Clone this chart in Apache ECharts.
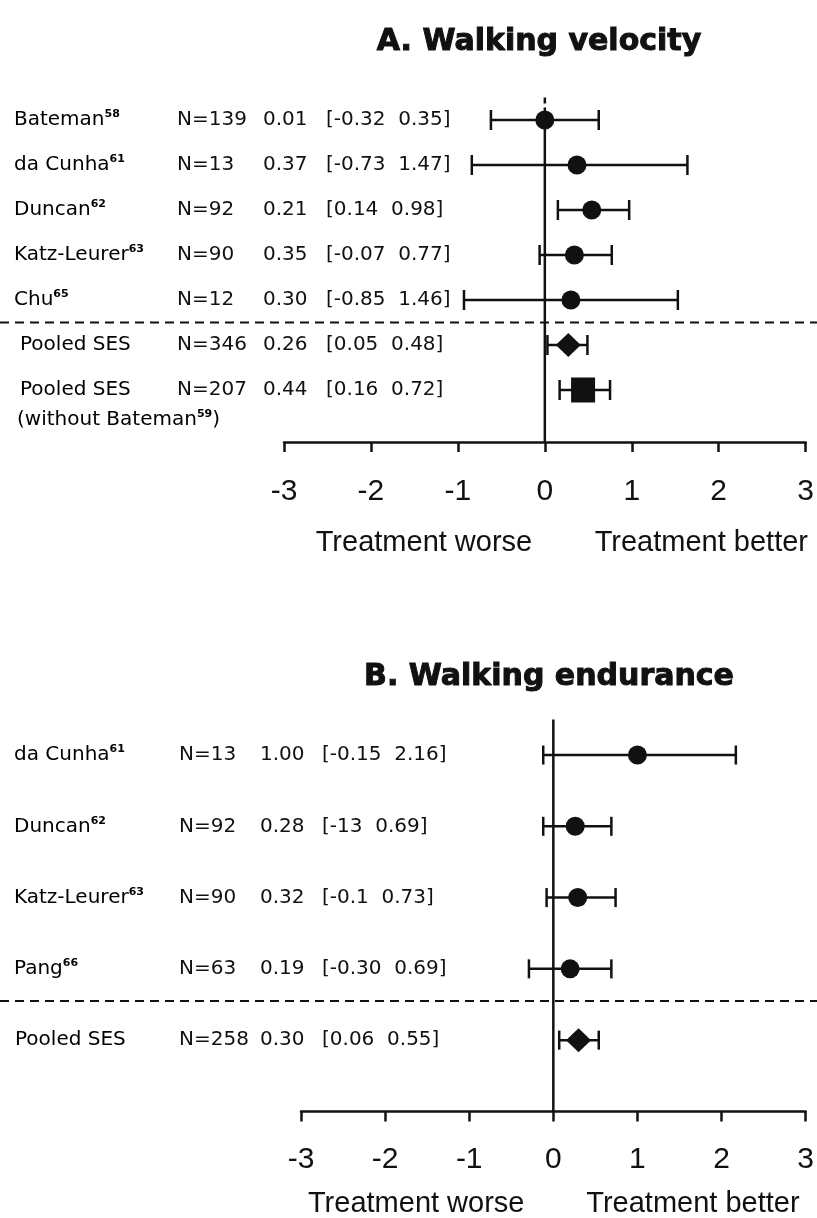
<!DOCTYPE html>
<html><head><meta charset="utf-8">
<script src="https://cdn.jsdelivr.net/npm/echarts@6/dist/echarts.min.js"></script>
<style>html,body{margin:0;padding:0;background:#fff}#c{width:817px;height:1218px}</style>
</head><body><div id="c"></div>
<script>
// ---------- Panel A: walking velocity ----------
const aNames  = ['Bateman','da Cunha','Duncan','Katz-Leurer','Chu','Pooled SES','Pooled SES'];
const aRefs   = ['58','61','62','63','65','',''];
const aSub    = ['','','','','','','(without Bateman|59|)'];
const aN      = ['N=139','N=13','N=92','N=90','N=12','N=346','N=207'];
const aES     = ['0.01','0.37','0.21','0.35','0.30','0.26','0.44'];
const aCI     = ['[-0.32  0.35]','[-0.73  1.47]','[0.14  0.98]','[-0.07  0.77]','[-0.85  1.46]','[0.05  0.48]','[0.16  0.72]'];
const aPoint  = [0.00, 0.37, 0.54, 0.34, 0.30, 0.27, 0.44];
const aLow    = [-0.62, -0.84, 0.15, -0.06, -0.93, 0.03, 0.17];
const aHigh   = [0.62, 1.64, 0.97, 0.77, 1.53, 0.49, 0.75];
const aKind   = ['study','study','study','study','study','pooled','pooledSub'];

// ---------- Panel B: walking endurance ----------
const bNames  = ['da Cunha','Duncan','Katz-Leurer','Pang','Pooled SES'];
const bRefs   = ['61','62','63','66',''];
const bSub    = ['','','','',''];
const bN      = ['N=13','N=92','N=90','N=63','N=258'];
const bES     = ['1.00','0.28','0.32','0.19','0.30'];
const bCI     = ['[-0.15  2.16]','[-13  0.69]','[-0.1  0.73]','[-0.30  0.69]','[0.06  0.55]'];
const bPoint  = [1.00, 0.26, 0.29, 0.20, 0.30];
const bLow    = [-0.12, -0.12, -0.08, -0.29, 0.07];
const bHigh   = [2.17, 0.69, 0.74, 0.69, 0.54];
const bKind   = ['study','study','study','study','pooled'];

const xTicks = [-3, -2, -1, 0, 1, 2, 3];
const titles = ['A. Walking velocity', 'B. Walking endurance'];
const dirLabels = ['Treatment worse', 'Treatment better'];

// ---------- styling / layout ----------
const INK = '#111';
const TXT = "'DejaVu Sans', sans-serif";
const NUM = "'Liberation Sans', Arial, sans-serif";
const RICH = {
  n: {fontFamily: TXT, fontSize: 20, color: INK, lineHeight: 22},
  s: {fontFamily: TXT, fontSize: 11, fontWeight: 'bold', color: INK, verticalAlign: 'top', lineHeight: 12}
};
const panels = [
  {names:aNames, refs:aRefs, sub:aSub, n:aN, es:aES, ci:aCI, pt:aPoint, lo:aLow, hi:aHigh, kind:aKind,
   grid:{left:284, width:522, top:97.5, height:344.5}, yMax:7.156, sep:4.5, dashTop:true,
   col:{name:14, pooled:20, n:177, es:263, ci:326}, cap:10, dir:[-1.39, 1.8], dirDy:101},
  {names:bNames, refs:bRefs, sub:bSub, n:bN, es:bES, ci:bCI, pt:bPoint, lo:bLow, hi:bHigh, kind:bKind,
   grid:{left:301, width:514, top:719.4, height:392}, yMax:5.0, sep:3.45, dashTop:false,
   col:{name:14, pooled:15, n:179, es:260, ci:322}, cap:9.5, dir:[-1.63, 1.66], dirDy:93}
];
const markerOf = {
  study: {symbol:'circle', size:19},
  pooled: {symbol:'diamond', size:[25,24]},
  pooledSub: {symbol:'rect', size:[24,25]}
};

const chart = echarts.init(document.getElementById('c'));

const grids = [], xAxes = [], yAxes = [], series = [];
panels.forEach((p, k) => {
  grids.push(Object.assign({containLabel:false}, p.grid));
  xAxes.push({
    type:'value', gridIndex:k, min:xTicks[0], max:xTicks[xTicks.length-1], interval:1,
    axisLine:{show:true, onZero:false, lineStyle:{color:INK, width:2.5}},
    axisTick:{show:true, length:10, lineStyle:{color:INK, width:2.5}},
    axisLabel:{fontFamily:NUM, fontSize:30, color:INK, margin: k === 0 ? 35 : 33},
    splitLine:{show:false}
  });
  yAxes.push({type:'value', gridIndex:k, show:false, inverse:true, min:-0.5, max:p.yMax});

  const rows = p.names.map((_, i) => i);

  // zero line
  if (p.dashTop) {
    series.push({type:'line', xAxisIndex:k, yAxisIndex:k, data:[[0,-0.5],[0,0]], symbol:'none', silent:true,
      lineStyle:{color:INK, width:2.5, type:[6,4]}, z:1});
    series.push({type:'line', xAxisIndex:k, yAxisIndex:k, data:[[0,0],[0,p.yMax]], symbol:'none', silent:true,
      lineStyle:{color:INK, width:2.5}, z:1});
  } else {
    series.push({type:'line', xAxisIndex:k, yAxisIndex:k, data:[[0,-0.5],[0,p.yMax]], symbol:'none', silent:true,
      lineStyle:{color:INK, width:2.5}, z:1});
  }
  // dashed separator between studies and pooled estimate, across the full width
  series.push({
    type:'custom', xAxisIndex:k, yAxisIndex:k, clip:false, z:1, silent:true,
    data:[[0, p.sep]],
    renderItem: (params, api) => {
      const y = api.coord([0, api.value(1)])[1];
      return {type:'line', shape:{x1:0, y1:y, x2:api.getWidth(), y2:y},
        style:{stroke:INK, lineWidth:2, lineDash:[9,6]}};
    }
  });

  // confidence intervals
  series.push({
    type:'custom', xAxisIndex:k, yAxisIndex:k, clip:false, z:2,
    data: rows.map(i => [p.lo[i], p.hi[i], i]),
    renderItem: (params, api) => {
      const a = api.coord([api.value(0), api.value(2)]);
      const b = api.coord([api.value(1), api.value(2)]);
      const st = {stroke:INK, lineWidth:2.5};
      return {type:'group', children:[
        {type:'line', shape:{x1:a[0], y1:a[1], x2:b[0], y2:b[1]}, style:st},
        {type:'line', shape:{x1:a[0], y1:a[1]-p.cap, x2:a[0], y2:a[1]+p.cap}, style:st},
        {type:'line', shape:{x1:b[0], y1:b[1]-p.cap, x2:b[0], y2:b[1]+p.cap}, style:st}
      ]};
    }
  });
  // point estimates
  series.push({
    type:'scatter', xAxisIndex:k, yAxisIndex:k, z:3, silent:true,
    data: rows.map(i => ({value:[p.pt[i], i], symbol:markerOf[p.kind[i]].symbol, symbolSize:markerOf[p.kind[i]].size})),
    itemStyle:{color:INK, opacity:1}
  });
  // table text
  series.push({
    type:'custom', xAxisIndex:k, yAxisIndex:k, clip:false, z:4, silent:true,
    data: rows.map(i => [0, i]),
    renderItem: (params, api) => {
      const i = params.dataIndex;
      const y = api.coord([0, api.value(1)])[1];
      const c = p.col;
      const nx = p.kind[i] === 'study' ? c.name : c.pooled;
      const nameRich = '{n|' + p.names[i] + '}' + (p.refs[i] ? '{s|' + p.refs[i] + '}' : '');
      const plain = (x, t) => ({type:'text', style:{x, y, text:t, fontFamily:TXT, fontSize:20, fill:INK, align:'left', verticalAlign:'middle'}});
      const kids = [
        {type:'text', style:{x:nx, y, text:nameRich, rich:RICH, align:'left', verticalAlign:'middle'}},
        plain(c.n, p.n[i]), plain(c.es, p.es[i]), plain(c.ci, p.ci[i])
      ];
      if (p.sub[i]) {
        const parts = p.sub[i].split('|');
        const subRich = '{n|' + parts[0] + '}{s|' + parts[1] + '}{n|' + parts[2] + '}';
        kids.push({type:'text', style:{x:nx - 3, y: y + 30, text:subRich, rich:RICH, align:'left', verticalAlign:'middle'}});
      }
      return {type:'group', children:kids};
    }
  });
  // direction labels under the axis
  series.push({
    type:'custom', xAxisIndex:k, yAxisIndex:k, clip:false, z:4, silent:true,
    data: dirLabels.map((t, j) => [p.dir[j], p.yMax]),
    renderItem: (params, api) => {
      const pt = api.coord([api.value(0), api.value(1)]);
      return {type:'text', style:{x:pt[0], y:pt[1] + p.dirDy, text:dirLabels[params.dataIndex],
        fontFamily:NUM, fontSize:29, fill:INK, align:'center', verticalAlign:'middle'}};
    }
  });
});

const titleStyle = (t) => ({text:t, fontFamily:"'DejaVu Sans', sans-serif", fontWeight:'bold', fontSize:30,
  fill:INK, stroke:INK, lineWidth:1, align:'center', verticalAlign:'middle'});

chart.setOption({
  animation:false,
  backgroundColor:'#fff',
  grid:grids, xAxis:xAxes, yAxis:yAxes, series:series,
  graphic:[
    {type:'text', x:539, y:42, style:titleStyle(titles[0])},
    {type:'text', x:549, y:677, style:titleStyle(titles[1])}
  ]
});
</script></body></html>
